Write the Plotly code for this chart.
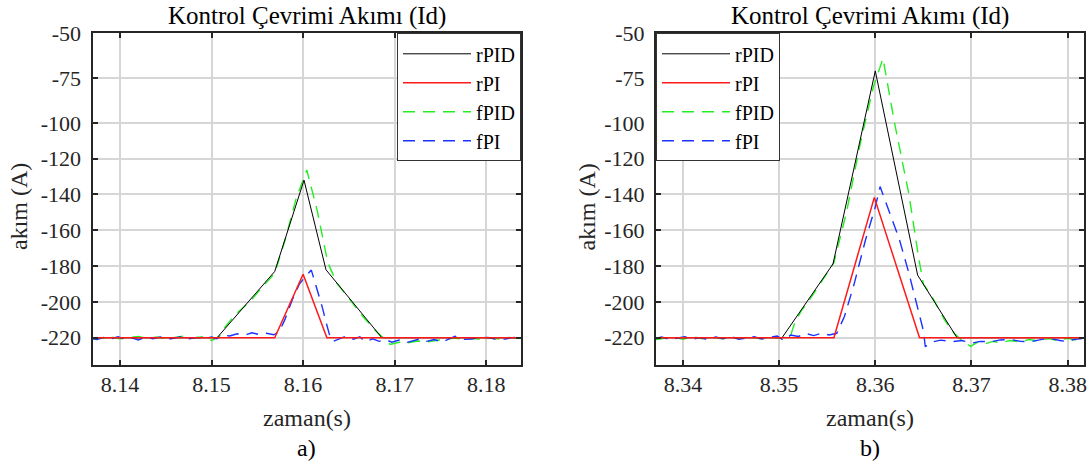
import plotly.graph_objects as go

# ---- data: panel a) ----
t_a_rpid = [8.1370, 8.1506, 8.1569, 8.1601, 8.1625, 8.1686, 8.1838]
v_a_rpid = [-220, -220, -183, -132, -182, -220, -220]

t_a_rpi = [8.1370, 8.1569, 8.1600, 8.1626, 8.1838]
v_a_rpi = [-220, -220, -184.5, -220, -220]

t_a_fpid = [8.1370, 8.1380, 8.1390, 8.1400, 8.1410, 8.1420, 8.1430, 8.1440, 8.1450, 8.1460,
            8.1470, 8.1480, 8.1490, 8.1500, 8.1508, 8.1515, 8.1525, 8.1535, 8.1545, 8.1555,
            8.1569, 8.1580, 8.1592, 8.1604, 8.1615, 8.1627, 8.1637, 8.1650, 8.1665, 8.1680,
            8.1688, 8.1695, 8.1705, 8.1715, 8.1725, 8.1735, 8.1745, 8.1755, 8.1765, 8.1775,
            8.1785, 8.1795, 8.1805, 8.1815, 8.1825, 8.1838]
v_a_fpid = [-220.8, -220.2, -219.5, -220.6, -220.0, -219.2, -220.4, -219.6, -220.5, -219.7,
            -219.0, -220.3, -219.4, -221.5, -219.5, -214.0, -207.5, -203.0, -198.0, -192.0,
            -184.0, -166.0, -143.0, -126.3, -148.0, -178.0, -189.6, -198.0, -208.0, -216.5,
            -220.5, -223.7, -222.5, -222.8, -221.8, -222.3, -221.5, -221.0, -220.2, -220.8,
            -220.3, -221.0, -220.2, -220.8, -219.8, -220.4]

t_a_fpi = [8.1370, 8.1375, 8.1382, 8.1390, 8.1398, 8.1405, 8.1413, 8.1420, 8.1428, 8.1436,
           8.1444, 8.1452, 8.1460, 8.1468, 8.1476, 8.1484, 8.1492, 8.1500, 8.1506, 8.1512,
           8.1520, 8.1528, 8.1536, 8.1544, 8.1552, 8.1560, 8.1568, 8.1574, 8.1580, 8.1588,
           8.1596, 8.1602, 8.1609, 8.1615, 8.1621, 8.1626, 8.1630, 8.1633, 8.1640, 8.1647,
           8.1655, 8.1662, 8.1668, 8.1676, 8.1683, 8.1690, 8.1697, 8.1705, 8.1712, 8.1720,
           8.1727, 8.1735, 8.1743, 8.1752, 8.1760, 8.1766, 8.1775, 8.1784, 8.1792, 8.1802,
           8.1810, 8.1821, 8.1828, 8.1835]
v_a_fpi = [-220.5, -221.0, -219.8, -220.6, -219.4, -220.8, -220.0, -221.2, -219.7, -220.5,
           -219.5, -220.9, -220.1, -219.3, -220.6, -219.8, -220.4, -219.6, -220.5, -218.5,
           -219.0, -217.8, -218.6, -217.2, -218.2, -217.5, -218.3, -216.5, -210.0, -199.0,
           -190.0, -186.0, -182.2, -192.0, -203.0, -213.0, -220.5, -222.0, -220.5, -219.0,
           -220.8, -219.5, -222.2, -220.6, -222.0, -221.0, -222.5, -221.3, -222.8, -221.5,
           -220.7, -222.0, -221.0, -222.4, -220.6, -219.1, -220.9, -220.7, -220.0, -219.8,
           -220.9, -220.7, -219.9, -219.8]

# ---- data: panel b) ----
t_b_rpid = [8.3372, 8.3503, 8.3556, 8.3600, 8.3644, 8.3685, 8.3817]
v_b_rpid = [-220, -220, -178.8, -71, -185, -220, -220]

t_b_rpi = [8.3372, 8.3557, 8.3599, 8.3646, 8.3817]
v_b_rpi = [-220, -220, -141.6, -220, -220]

t_b_fpid = [8.3372, 8.3380, 8.3390, 8.3400, 8.3410, 8.3420, 8.3430, 8.3440, 8.3450, 8.3460,
            8.3470, 8.3480, 8.3490, 8.3500, 8.3506, 8.3511, 8.3516, 8.3523, 8.3530, 8.3540,
            8.3550, 8.3557, 8.3570, 8.3585, 8.3598, 8.3608, 8.3620, 8.3635, 8.3645, 8.3650,
            8.3660, 8.3672, 8.3682, 8.3689, 8.3699, 8.3706, 8.3714, 8.3722, 8.3730, 8.3740,
            8.3750, 8.3760, 8.3770, 8.3780, 8.3790, 8.3800, 8.3808, 8.3817]
v_b_fpid = [-221.0, -220.3, -219.6, -220.8, -219.4, -220.5, -219.3, -220.6, -219.8, -220.4,
            -219.5, -220.6, -219.7, -220.2, -219.8, -220.5, -212.0, -205.0, -200.0, -192.0,
            -184.0, -178.0, -150.0, -110.0, -80.0, -64.0, -100.0, -140.0, -175.0, -190.0,
            -198.0, -210.0, -217.5, -221.0, -224.8, -222.6, -223.5, -222.0, -222.8, -221.5,
            -222.3, -221.0, -221.8, -220.5, -221.6, -220.3, -221.2, -220.0]

t_b_fpi = [8.3372, 8.3378, 8.3386, 8.3394, 8.3402, 8.3410, 8.3418, 8.3426, 8.3434, 8.3442,
           8.3450, 8.3458, 8.3466, 8.3474, 8.3482, 8.3490, 8.3498, 8.3505, 8.3512, 8.3520,
           8.3528, 8.3536, 8.3544, 8.3552, 8.3560, 8.3568, 8.3578, 8.3590, 8.3600, 8.3605,
           8.3615, 8.3625, 8.3635, 8.3645, 8.3650, 8.3652, 8.3658, 8.3668, 8.3680, 8.3690,
           8.3700, 8.3709, 8.3720, 8.3730, 8.3740, 8.3751, 8.3762, 8.3772, 8.3782, 8.3792,
           8.3800, 8.3806, 8.3815]
v_b_fpi = [-220.4, -219.5, -221.0, -220.2, -219.4, -220.8, -219.9, -221.2, -219.6, -220.5,
           -219.3, -220.9, -220.0, -219.4, -220.7, -219.8, -219.0, -221.5, -218.5, -219.3,
           -217.6, -218.8, -217.5, -218.4, -217.5, -208.0, -190.0, -165.0, -147.0, -135.6,
           -150.0, -165.0, -184.0, -205.0, -216.0, -225.0, -222.5, -221.3, -222.2, -221.5,
           -223.0, -222.0, -222.2, -221.2, -220.9, -222.0, -222.2, -221.0, -220.4, -221.5,
           -222.2, -221.0, -220.4]

y_ticks = [-220, -200, -180, -160, -140, -120, -100, -75, -50]
y_tick_text = ['-220', '-200', '-180', '-160', '-140', '-120', '-100', '-75', '-50']
x_ticks_a = [8.14, 8.15, 8.16, 8.17, 8.18]
x_ticks_b = [8.34, 8.35, 8.36, 8.37, 8.38]

title_text = 'Kontrol Çevrimi Akımı (Id)'
font = 'Liberation Serif'
ink = '#262626'

styles = {
    'rPID': dict(color='black', width=1),
    'rPI': dict(color='#ff1a1a', width=1.5),
    'fPID': dict(color='#22ee22', width=1.4, dash='12px,8px'),
    'fPI': dict(color='#1a33ff', width=1.4, dash='12px,8px'),
}

W, H = 1091, 466


def fx(px):
    return px / W


def fy(py):
    return 1 - py / H


fig = go.Figure()
panels = [
    ('x', 'y', 'legend', [(t_a_rpid, v_a_rpid), (t_a_rpi, v_a_rpi), (t_a_fpid, v_a_fpid), (t_a_fpi, v_a_fpi)]),
    ('x2', 'y2', 'legend2', [(t_b_rpid, v_b_rpid), (t_b_rpi, v_b_rpi), (t_b_fpid, v_b_fpid), (t_b_fpi, v_b_fpi)]),
]
# draw dashed ones first so solid lines stay visible
order = [2, 3, 0, 1]
names = ['rPID', 'rPI', 'fPID', 'fPI']
for xa, ya, leg, series in panels:
    for i in order:
        t, v = series[i]
        fig.add_trace(go.Scatter(
            x=t, y=v, mode='lines', name=names[i], line=styles[names[i]],
            xaxis=xa, yaxis=ya, legend=leg, legendrank=i,
        ))

x_dom_a = [fx(92.5), fx(521)]
x_dom_b = [fx(656), fx(1084)]
y_dom = [fy(365), fy(33.3)]

axis_common = dict(
    showgrid=True, gridcolor='#d6d6d6', gridwidth=1.5,
    showline=True, linecolor=ink, linewidth=2, mirror='allticks',
    ticks='inside', ticklen=5, tickwidth=2, tickcolor=ink,
    tickfont=dict(family=font, size=22, color=ink), zeroline=False,
    automargin=False,
)

legend_common = dict(
    y=y_dom[1], yanchor='top', bgcolor='white', bordercolor='#333333', borderwidth=1,
    font=dict(family=font, size=20, color='black'), itemwidth=68, tracegroupgap=0,
)

fig.update_layout(
    width=W, height=H,
    margin=dict(l=0, r=0, t=0, b=0, autoexpand=False),
    plot_bgcolor='white', paper_bgcolor='white',
    xaxis=dict(domain=x_dom_a, range=[8.1370, 8.1838], tickvals=x_ticks_a,
               ticktext=[f'{v:.2f}' for v in x_ticks_a], anchor='y', ticklabelstandoff=-1, **axis_common),
    yaxis=dict(domain=y_dom, range=[-235.2, -50], tickvals=y_ticks, ticktext=y_tick_text,
               anchor='x', ticklabelstandoff=5, **axis_common),
    xaxis2=dict(domain=x_dom_b, range=[8.3372, 8.3817], tickvals=x_ticks_b,
                ticktext=[f'{v:.2f}' for v in x_ticks_b], anchor='y2', ticklabelstandoff=-1, **axis_common),
    yaxis2=dict(domain=y_dom, range=[-235.2, -50], tickvals=y_ticks, ticktext=y_tick_text,
                anchor='x2', ticklabelstandoff=5, **axis_common),
    legend=dict(x=x_dom_a[1], xanchor='right', **legend_common),
    legend2=dict(x=x_dom_b[0], xanchor='left', **legend_common),
)

for dom, letter, ylab_x in [(x_dom_a, 'a)', 19), (x_dom_b, 'b)', 586.5)]:
    cx = (dom[0] + dom[1]) / 2
    labels = [
        (title_text, cx, fy(16), 0, 'black', 25),
        ('zaman(s)', cx, fy(418), 0, ink, 24),
        (letter, cx, fy(448), 0, 'black', 24),
        ('akım (A)', fx(ylab_x), fy(207), -90, ink, 24),
    ]
    for text, x, y, ang, col, size in labels:
        fig.add_annotation(text=text, x=x, y=y, xref='paper', yref='paper',
                           xanchor='center', yanchor='middle', textangle=ang,
                           showarrow=False, font=dict(family=font, size=size, color=col))

# drop the default 8px body margin so the figure fills the window exactly
fig.write_html('out.html', config={'displayModeBar': False},
               post_script="document.body.style.margin='0';document.body.style.overflow='hidden';")
